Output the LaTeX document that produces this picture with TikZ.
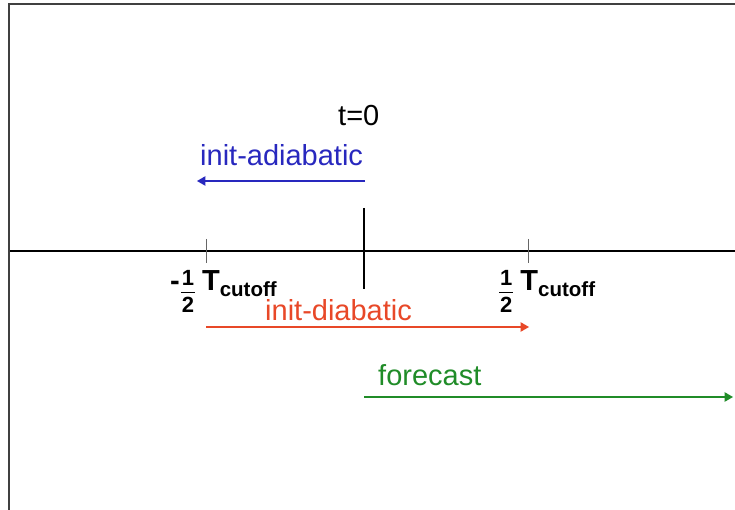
\documentclass[tikz,border=0pt]{standalone}
\usepackage{fontspec}
\setmainfont{Liberation Sans}
\usetikzlibrary{arrows}
\tikzstyle{every label} = [inner sep=0pt, font=\fontsize{29}{34}\selectfont]
\tikzstyle{span} = [-triangle 60, line width=1.3pt]
\tikzstyle{tick} = [draw, black!60, line width=0.9pt]
\definecolor{adiab}{RGB}{40,40,190}
\definecolor{diab}{RGB}{232,72,40}
\definecolor{fcst}{RGB}{32,140,40}
\newcommand{\halfstack}{\raisebox{-22pt}{\fontsize{22}{22}\selectfont\bfseries\setlength{\arrayrulewidth}{0.8pt}\begin{tabular}[b]{@{\kern1pt}c@{\kern1pt}}1\\\hline\rule{0pt}{19pt}2\end{tabular}}}
\newcommand{\halfT}{\halfstack\kern7pt\textbf{T}\raisebox{-6pt}{\fontsize{20.5}{20}\selectfont\bfseries cutoff}}

\begin{document}
\begin{tikzpicture}[x=1pt,y=-1pt]
                    \useasboundingbox (0,0) rectangle (735,510);
                    % frame
                    \draw[black!75, line width=1.6pt] (9,510) -- (9,4) -- (735,4);

                    % time axis
                    \coordinate (axl) at (10,251);
                    \coordinate (axr) at (735,251);
                    \draw[line width=1.4pt] (axl) -- (axr);
                    \coordinate (ctop) at (364,208);
                    \coordinate (cbot) at (364,289);
                    \draw[line width=1.3pt] (ctop) -- (cbot);
                    \coordinate (ltop) at (206,239);
                    \coordinate (lbot) at (206,263);
                    \coordinate (rtop) at (528,239);
                    \coordinate (rbot) at (528,263);
                    \path[tick] (ltop) -- (lbot);
                    \path[tick] (rtop) -- (rbot);

                    \node[every label, anchor=base west] (tzero) at (338,126) {t=0};
                    \node[every label, anchor=base west] (lcut) at (170,290) {\textbf{-}\kern1pt\halfT};
                    \node[every label, anchor=base west] (rcut) at (499,290) {\halfT};

                    % runs
                    \node[every label, anchor=base west, text=adiab] (adiabtxt) at (200,166) {init-adiabatic};
                    \coordinate (adiabs) at (365,181);
                    \coordinate (adiabe) at (197,181);
                    \draw[span, adiab] (adiabs) -- (adiabe);

                    \node[every label, anchor=base west, text=diab] (diabtxt) at (265,320) {init-diabatic};
                    \coordinate (diabs) at (206,327);
                    \coordinate (diabe) at (529,327);
                    \draw[span, diab] (diabs) -- (diabe);

                    \node[every label, anchor=base west, text=fcst] (fcsttxt) at (378,385) {forecast};
                    \coordinate (fcsts) at (364,397);
                    \coordinate (fcste) at (733,397);
                    \draw[span, fcst] (fcsts) -- (fcste);
                \end{tikzpicture}
\end{document}
